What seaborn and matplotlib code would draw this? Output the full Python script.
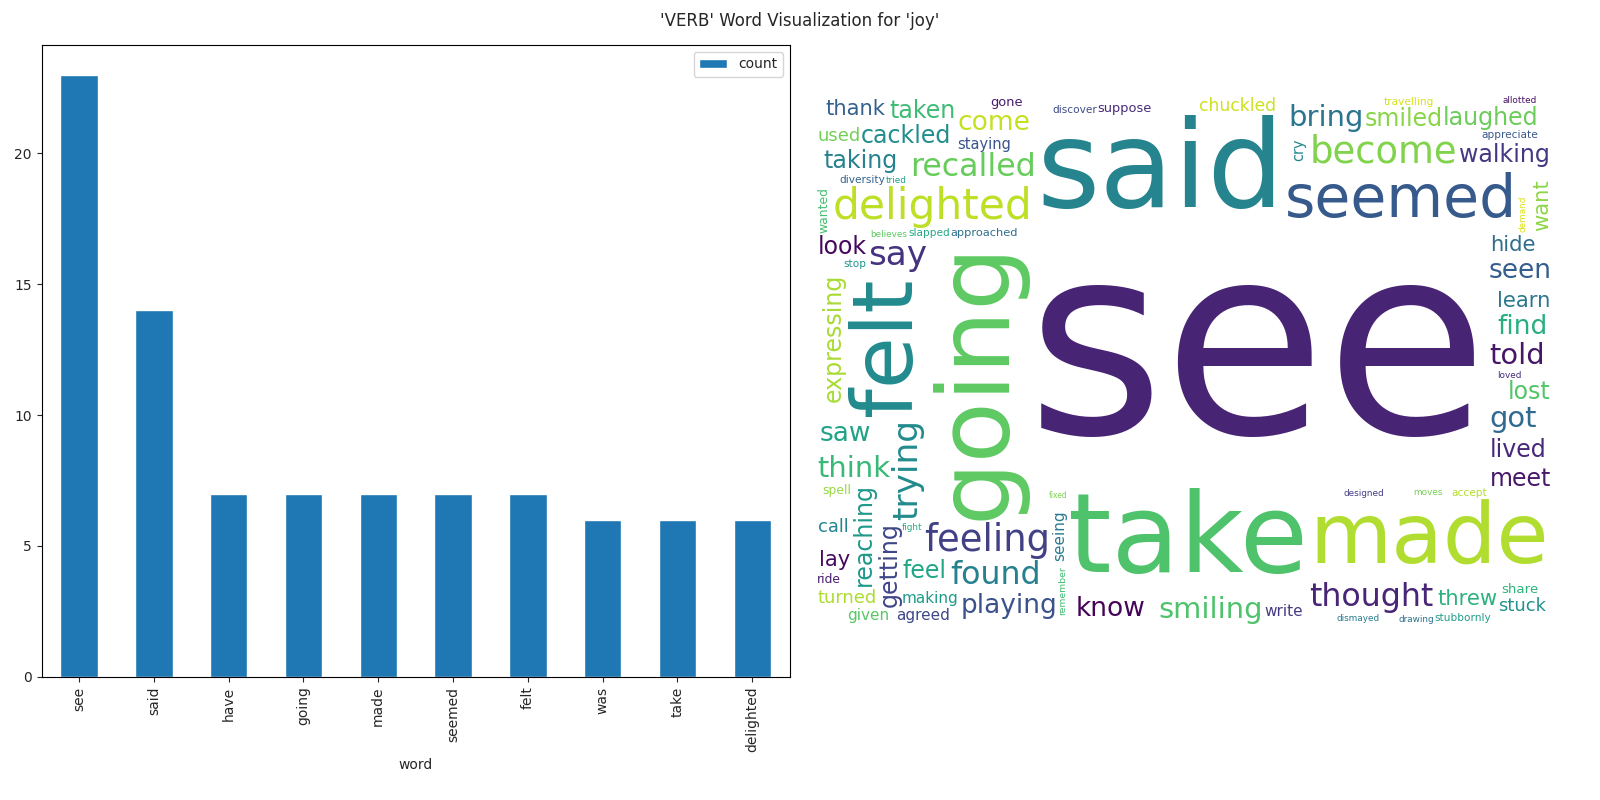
import numpy as np
import pandas as pd
import matplotlib
matplotlib.use('Agg')
import matplotlib.pyplot as plt
import seaborn as sns

# bar chart data
words = ['see', 'said', 'have', 'going', 'made', 'seemed', 'felt', 'was', 'take', 'delighted']
counts = [23, 14, 7, 7, 7, 7, 7, 6, 6, 6]

# word cloud data: word, relative size, vertical?
cloud_words = ['see', 'said', 'take', 'going', 'seemed', 'made', 'felt', 'delighted',
               'feeling', 'become', 'trying', 'say', 'recalled', 'found', 'thought',
               'smiling', 'bring', 'told', 'think', 'got', 'know', 'find', 'seen',
               'come', 'saw', 'playing', 'expressing', 'reaching', 'getting', 'smiled',
               'cackled', 'walking', 'laughed', 'taking', 'lived', 'lost', 'learn',
               'meet', 'taken', 'hide', 'look', 'threw', 'thank', 'chuckled', 'feel',
               'staying', 'turned', 'making', 'agreed', 'want', 'stuck', 'write',
               'used', 'call', 'suppose', 'given', 'seeing', 'gone', 'remember',
               'approached', 'lay', 'share', 'diversity', 'travelling', 'slapped',
               'appreciate', 'accept', 'stubbornly', 'discover', 'spell', 'stop',
               'designed', 'moves', 'cry', 'loved', 'believes', 'dismayed', 'ride',
               'wanted', 'drawing', 'allotted', 'encourage', 'resting', 'demand',
               'fight', 'remained', 'helped', 'tried', 'visiting', 'heading',
               'surprise', 'enabled', 'fixed', 'make', 'meeting', 'became',
               'wheezing', 'understand', 'welcome', 'means']
cloud_sizes = [1.0, 0.88, 0.42, 0.38, 0.36, 0.32, 0.32, 0.16,
               0.14, 0.14, 0.13, 0.13, 0.12, 0.12, 0.12,
               0.11, 0.11, 0.11, 0.11, 0.11, 0.1, 0.1, 0.1,
               0.1, 0.1, 0.1, 0.09, 0.09, 0.09, 0.09,
               0.09, 0.09, 0.09, 0.09, 0.09, 0.09, 0.08,
               0.09, 0.09, 0.08, 0.09, 0.08, 0.08, 0.09, 0.09,
               0.09, 0.08, 0.08, 0.08, 0.08, 0.08, 0.08,
               0.08, 0.08, 0.08, 0.08, 0.08, 0.08, 0.08,
               0.07, 0.08, 0.07] + [0.055] * 38
cloud_vertical = ['going', 'felt', 'trying', 'expressing', 'reaching', 'getting',
                  'want', 'seeing', 'remember', 'cry', 'wanted', 'demand']
cloud_tones = [0.1, 0.45, 0.72, 0.75, 0.28, 0.88, 0.48, 0.9]

sns.set_style('white')
plt.rcParams['font.family'] = ['DejaVu Sans']

fig = plt.figure(figsize=(16, 8), dpi=100)
fig.suptitle("'VERB' Word Visualization for 'joy'", fontsize=12, y=0.985)

ax = fig.add_axes([0.026, 0.154, 0.4675, 0.79])
df = pd.DataFrame({'word': words, 'count': counts})
sns.barplot(data=df, x='word', y='count', color='#1f77b4', width=0.5,
            saturation=1, ax=ax, label='count')
ax.set_ylabel('')
ax.set_xlabel('word', fontsize=10)
ax.tick_params(axis='x', rotation=90, labelsize=10)
ax.tick_params(axis='y', labelsize=10)
ax.tick_params(left=True, bottom=True, length=3.5)
for s in ax.spines.values():
    s.set_color('black')
    s.set_linewidth(0.8)
ax.legend(loc='upper right')

# word cloud: greedy spiral layout in pixel space
ax2 = fig.add_axes([0.51, 0.22, 0.46, 0.66])
ax2.set_xlim(0, 1)
ax2.set_ylim(0, 1)
ax2.axis('off')
fig.canvas.draw()
renderer = fig.canvas.get_renderer()
abox = ax2.get_window_extent(renderer)
W, H = abox.width, abox.height
cmap = plt.get_cmap('viridis')
placed = []
base = 190


def fits(x0, y0, x1, y1):
    if x0 < 0 or y0 < 0 or x1 > W or y1 > H:
        return False
    for (a0, b0, a1, b1) in placed:
        if x0 < a1 and x1 > a0 and y0 < b1 and y1 > b0:
            return False
    return True


for i, (w, s) in enumerate(zip(cloud_words, cloud_sizes)):
    tone = cloud_tones[i] if i < len(cloud_tones) else (i * 0.618) % 0.95
    rot = 90 if w in cloud_vertical else 0
    fs = s * base
    while fs > 5:
        t = ax2.text(0.5, 0.5, w, fontsize=fs, rotation=rot, ha='center',
                     va='center', color=cmap(tone), rotation_mode='anchor')
        ext = t.get_window_extent(renderer)
        bw, bh = ext.width, ext.height
        found = None
        cx0, cy0 = (W * 0.6, H * 0.5) if i == 0 else (W / 2, H / 2)
        for k in range(8000):
            r = 5 * k ** 0.5
            th = k * 0.35
            cx = cx0 + r * np.cos(th) * 1.4
            cy = cy0 + r * np.sin(th)
            if fits(cx - bw / 2, cy - bh / 2, cx + bw / 2, cy + bh / 2):
                found = (cx, cy)
                break
        if found:
            cx, cy = found
            placed.append((cx - bw / 2, cy - bh / 2, cx + bw / 2, cy + bh / 2))
            t.set_position((cx / W, cy / H))
            break
        t.remove()
        fs *= 0.85

fig.savefig('out.png', dpi=100)
